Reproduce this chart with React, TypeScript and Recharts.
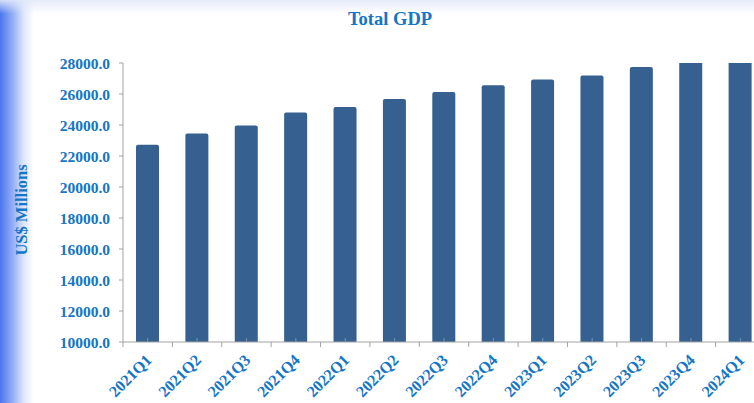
import { BarChart, Bar, XAxis, YAxis } from 'recharts'

const quarters = [
  '2021Q1', '2021Q2', '2021Q3', '2021Q4',
  '2022Q1', '2022Q2', '2022Q3', '2022Q4',
  '2023Q1', '2023Q2', '2023Q3', '2023Q4',
  '2024Q1'
]

const gdp = [
  22720, 23450, 23960, 24800,
  25160, 25680, 26130, 26560,
  26930, 27190, 27740, 28250,
  28600
]

const yTicks = [10000, 12000, 14000, 16000, 18000, 20000, 22000, 24000, 26000, 28000]

const data = quarters.map((q, i) => ({ quarter: q, gdp: gdp[i] }))

const BLUE_TEXT = '#1575c6'
const BAR = '#35608f'
const AXIS = '#a3a3a3'
const FONT = '"Liberation Serif", "DejaVu Serif", serif'

const CHART_W = 770
const CHART_H = 403
const MARGIN = { top: 63, right: 5, bottom: 1, left: 0 }
const Y_W = 123
const BAND = (CHART_W - MARGIN.right - MARGIN.left - Y_W) / quarters.length

function QuarterTick(props: any) {
  const { x, y, payload, index } = props
  const lx = x - BAND / 2
  const tx = x + 5
  const ty = y + 19
  return (
    <g>
      <line x1={lx} y1={y} x2={lx} y2={y + 5} stroke={AXIS} />
      {index === quarters.length - 1 && (
        <line x1={x + BAND / 2} y1={y} x2={x + BAND / 2} y2={y + 5} stroke={AXIS} />
      )}
      <line x1={x} y1={y - 4} x2={x} y2={y} stroke="#7f93b0" />
      <text
        x={tx}
        y={ty}
        transform={`rotate(-45, ${tx}, ${ty})`}
        textAnchor="end"
        fill={BLUE_TEXT}
        fontFamily={FONT}
        fontWeight="bold"
        fontSize={16}
      >
        {payload.value}
      </text>
    </g>
  )
}

export default function App() {
  return (
    <div
      style={{
        position: 'fixed',
        left: 0,
        top: 0,
        width: 754,
        height: 403,
        overflow: 'hidden',
        background: 'linear-gradient(to right, #4a76ee 0px, #8fabf3 12px, #dfe7fb 24px, #ffffff 34px)'
      }}
    >
      <div
        style={{
          position: 'absolute',
          left: 0,
          top: 0,
          width: 754,
          height: 14,
          background: 'linear-gradient(to bottom, rgba(226,233,248,0.9), rgba(255,255,255,0))'
        }}
      />
      <div
        style={{
          position: 'absolute',
          left: 0,
          top: 5,
          width: 754,
          textAlign: 'center',
          paddingLeft: 26,
          boxSizing: 'border-box',
          fontFamily: FONT,
          fontWeight: 'bold',
          fontSize: 18.5,
          color: BLUE_TEXT,
          lineHeight: '28px'
        }}
      >
        Total GDP
      </div>
      <div
        style={{
          position: 'absolute',
          left: 22,
          top: 210,
          transform: 'translate(-50%, -50%) rotate(-90deg)',
          whiteSpace: 'nowrap',
          fontFamily: FONT,
          fontWeight: 'bold',
          fontSize: 16.5,
          color: BLUE_TEXT
        }}
      >
        US$ Millions
      </div>
      <div style={{ position: 'absolute', left: 0, top: 0 }}>
        <BarChart width={CHART_W} height={CHART_H} data={data} margin={MARGIN}>
          <XAxis
            dataKey="quarter"
            height={60}
            interval={0}
            tickSize={0}
            tickMargin={0}
            tickLine={false}
            axisLine={{ stroke: AXIS }}
            tick={<QuarterTick />}
          />
          <YAxis
            width={Y_W}
            domain={[10000, 28000]}
            ticks={yTicks}
            allowDataOverflow
            interval={0}
            tickSize={4}
            tickMargin={9}
            axisLine={{ stroke: AXIS }}
            tickLine={{ stroke: AXIS }}
            tickFormatter={(v: number) => v.toFixed(1)}
            tick={{ fill: BLUE_TEXT, fontFamily: FONT, fontWeight: 'bold', fontSize: 15.5 }}
          />
          <Bar
            dataKey="gdp"
            fill={BAR}
            barSize={23}
            radius={[2, 2, 0, 0]}
            isAnimationActive={false}
          />
        </BarChart>
      </div>
    </div>
  )
}
